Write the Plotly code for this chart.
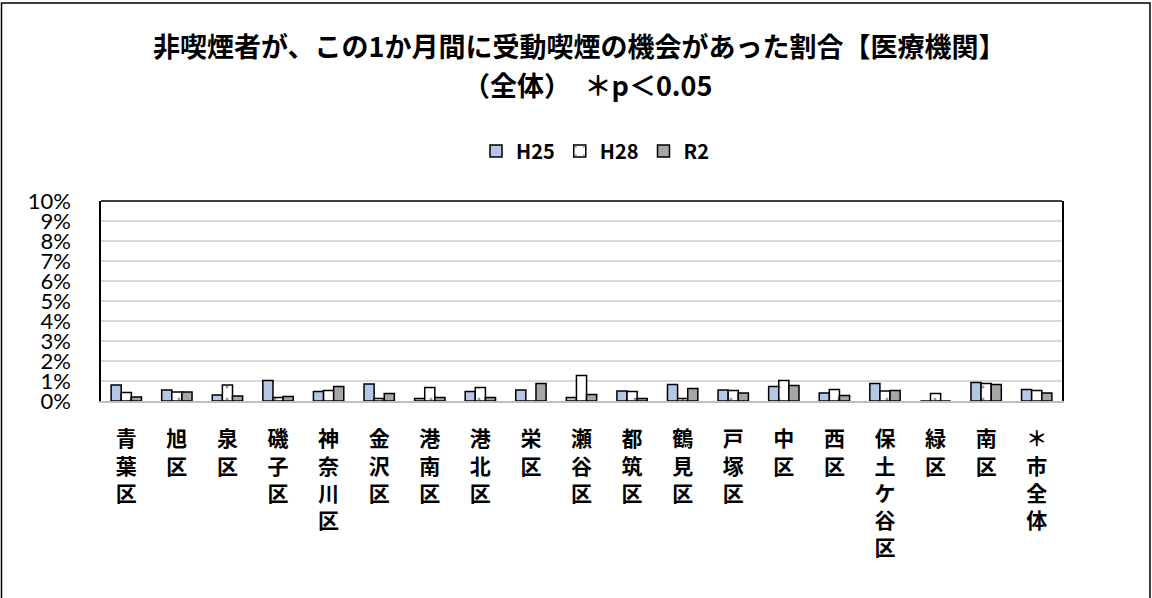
import plotly.graph_objects as go

categories = ["青葉区", "旭区", "泉区", "磯子区", "神奈川区", "金沢区", "港南区", "港北区", "栄区",
              "瀬谷区", "都筑区", "鶴見区", "戸塚区", "中区", "西区", "保土ケ谷区", "緑区", "南区", "＊市全体"]
h25 = [0.80, 0.55, 0.30, 1.03, 0.48, 0.85, 0.12, 0.47, 0.55, 0.18, 0.50, 0.83, 0.55, 0.72, 0.40, 0.88, 0.0, 0.93, 0.58]
h28 = [0.42, 0.45, 0.80, 0.17, 0.53, 0.13, 0.67, 0.67, 0.0, 1.28, 0.47, 0.12, 0.53, 1.03, 0.57, 0.50, 0.37, 0.88, 0.53]
r2 = [0.20, 0.45, 0.25, 0.22, 0.73, 0.38, 0.17, 0.18, 0.87, 0.33, 0.12, 0.62, 0.40, 0.78, 0.27, 0.53, 0.0, 0.83, 0.40]
ytick_vals = list(range(0, 11))
ytick_text = [f"{v}%" for v in ytick_vals]
title_line1 = "非喫煙者が、この1か月間に受動喫煙の機会があった割合【医療機関】"
title_line2 = "（全体）　＊p＜0.05"

ticktext = ["<br>".join(list(c)) for c in categories]

JP = "Noto Sans CJK JP"
fig = go.Figure()
fig.add_trace(go.Bar(name="H25", x=categories, y=h25, marker=dict(color="#b4c7e7", line=dict(color="#000000", width=1.5))))
fig.add_trace(go.Bar(name="H28", x=categories, y=h28, marker=dict(color="#ffffff", line=dict(color="#000000", width=1.5),
                                                               pattern=dict(shape=".", size=12, solidity=0.05, fgcolor="#1f3864", bgcolor="#ffffff"))))
fig.add_trace(go.Bar(name="R2", x=categories, y=r2, marker=dict(color="#a6a6a6", line=dict(color="#000000", width=1.5))))

L, R, T, B = 101, 1062, 201, 401
W, H = R - L, B - T
def px(x):
    return (x - L) / W
def py(y):
    return (B - y) / H

fig.update_layout(
    width=1152, height=598,
    margin=dict(l=L, r=1152 - R, t=T, b=598 - B, autoexpand=False),
    paper_bgcolor="white", plot_bgcolor="white",
    barmode="group", bargap=0.4, bargroupgap=0,
    annotations=[
        dict(text=title_line1, xref="paper", yref="paper", x=px(579), y=py(45), xanchor="center", yanchor="middle",
             showarrow=False, font=dict(family=JP, size=27, color="black", weight="bold")),
        dict(text=title_line2, xref="paper", yref="paper", x=px(587), y=py(85), xanchor="center", yanchor="middle",
             showarrow=False, font=dict(family=JP, size=27, color="black", weight="bold")),
    ],
    legend=dict(orientation="h", x=px(595), xanchor="center", y=py(151), yanchor="middle",
                font=dict(family=JP, size=20, color="black", weight="bold"), itemwidth=30, tracegroupgap=0),
    xaxis=dict(tickmode="array", tickvals=categories, ticktext=ticktext, tickangle=0,
               tickfont=dict(family=JP, size=21, color="black", weight="bold"),
               showline=True, linecolor="#bfbfbf", linewidth=2, ticks="", showgrid=False,
               ticklabelstandoff=18),
    yaxis=dict(range=[0, 10], tickmode="array", tickvals=ytick_vals, ticktext=ytick_text,
               tickfont=dict(family="Lato", size=22, color="black"),
               showline=True, linecolor="black", linewidth=1.5, mirror=True,
               showgrid=True, gridcolor="#d9d9d9", gridwidth=1.5, ticks="", ticklabelstandoff=24,
               zeroline=False),
    shapes=[
        dict(type="line", xref="paper", yref="paper", x0=0, x1=1, y0=1, y1=1, line=dict(color="black", width=1.5)),
        dict(type="rect", xref="paper", yref="paper", x0=px(1.5), x1=px(1150), y0=py(620), y1=py(3),
             line=dict(color="black", width=1.5), fillcolor="rgba(0,0,0,0)", layer="below"),
    ],
)

fig.write_html("out.html", config={"displayModeBar": False},
               post_script="document.body.style.margin='0px';document.body.style.overflow='hidden';")
